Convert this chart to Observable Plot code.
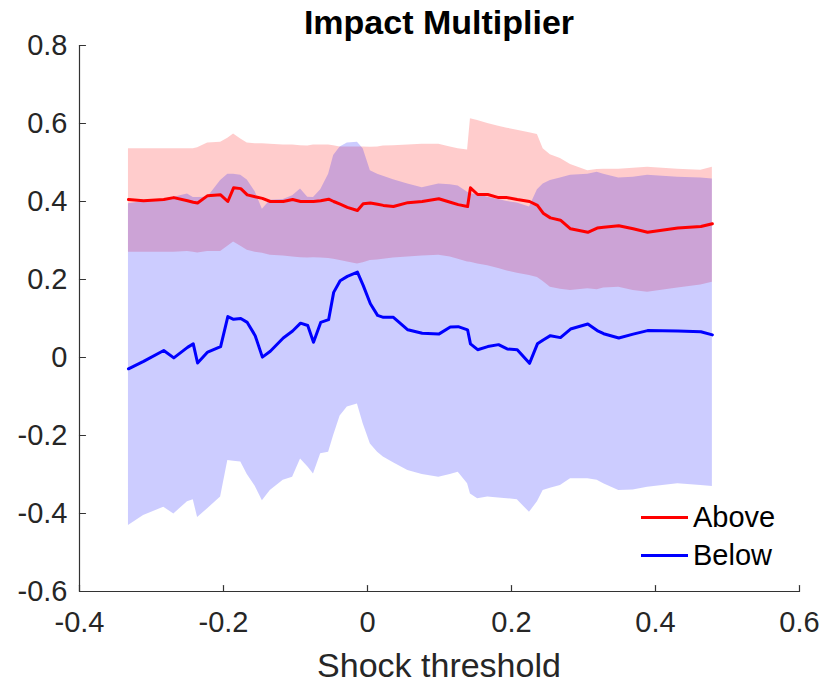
<!DOCTYPE html>
<html><head><meta charset="utf-8">
<script src="https://cdn.jsdelivr.net/npm/d3@7"></script>
<script src="https://cdn.jsdelivr.net/npm/@observablehq/plot@0.6"></script>
<style>
body{margin:0;background:#fff;font-family:"Liberation Sans",Arial,sans-serif;}
#wrap{position:relative;width:825px;height:690px;overflow:hidden;}
#title{position:absolute;left:79px;width:720px;top:3px;text-align:center;font-weight:bold;font-size:34px;color:#000;white-space:nowrap;}
#xlabel{position:absolute;left:79px;width:720px;top:646px;text-align:center;font-size:34px;color:#262626;white-space:nowrap;}
#legend{position:absolute;left:641px;top:498px;font-size:29px;color:#000;}
.row{display:flex;align-items:center;height:38px;}
.sw{width:47px;height:3px;margin-right:5px;}
</style></head><body>
<div id="wrap"><div id="chart"></div><div id="title"></div><div id="xlabel"></div><div id="legend"></div></div>
<script>
const titleText = "Impact Multiplier";
const xLabelText = "Shock threshold";
const seriesNames = ["Above", "Below"];
const seriesColors = ["red", "blue"];
const xDomain = [-0.4, 0.6];
const yDomain = [-0.6, 0.8];
const xTicks = [-0.4, -0.2, 0, 0.2, 0.4, 0.6];
const yTicks = [-0.6, -0.4, -0.2, 0, 0.2, 0.4, 0.6, 0.8];

const threshold = [-0.332, -0.311, -0.283, -0.269, -0.250, -0.242, -0.236, -0.222, -0.204, -0.194,
  -0.186, -0.176, -0.167, -0.156, -0.146, -0.135, -0.117, -0.104, -0.093, -0.083,
  -0.075, -0.065, -0.054, -0.047, -0.038, -0.028, -0.014, -0.006, 0.004, 0.014,
  0.022, 0.036, 0.056, 0.076, 0.099, 0.115, 0.126, 0.139, 0.143, 0.153,
  0.167, 0.182, 0.194, 0.208, 0.225, 0.236, 0.244, 0.254, 0.268, 0.282,
  0.306, 0.319, 0.328, 0.349, 0.369, 0.389, 0.431, 0.463, 0.479];

const aboveMid = [0.405,0.402,0.405,0.41,0.402,0.398,0.396,0.415,0.417,0.40,
  0.435,0.433,0.417,0.412,0.408,0.40,0.40,0.405,0.40,0.40,
  0.40,0.402,0.406,0.40,0.393,0.385,0.377,0.394,0.396,0.393,
  0.39,0.387,0.397,0.40,0.407,0.398,0.392,0.387,0.435,0.418,
  0.418,0.41,0.41,0.405,0.40,0.39,0.37,0.358,0.352,0.33,
  0.321,0.332,0.334,0.338,0.33,0.321,0.332,0.336,0.343];
const aboveHi = [0.535,0.535,0.535,0.535,0.535,0.535,0.538,0.55,0.552,0.562,
  0.573,0.56,0.55,0.548,0.548,0.547,0.545,0.545,0.543,0.542,
  0.545,0.545,0.545,0.543,0.54,0.54,0.54,0.54,0.539,0.54,
  0.542,0.543,0.545,0.547,0.547,0.54,0.535,0.532,0.612,0.608,
  0.60,0.593,0.588,0.583,0.576,0.572,0.535,0.52,0.51,0.495,
  0.479,0.482,0.483,0.483,0.485,0.488,0.483,0.48,0.488];
const aboveLo = [0.27,0.27,0.27,0.27,0.272,0.27,0.268,0.272,0.272,0.285,
  0.296,0.285,0.275,0.27,0.267,0.262,0.26,0.258,0.256,0.255,
  0.256,0.255,0.254,0.252,0.249,0.245,0.24,0.243,0.249,0.25,
  0.252,0.255,0.258,0.26,0.262,0.258,0.252,0.245,0.244,0.24,
  0.235,0.228,0.222,0.216,0.21,0.205,0.195,0.18,0.175,0.172,
  0.176,0.174,0.178,0.18,0.172,0.167,0.178,0.186,0.193];
const belowMid = [-0.029,-0.01,0.018,-0.001,0.026,0.035,-0.014,0.014,0.028,0.105,
  0.098,0.1,0.09,0.056,0.001,0.016,0.05,0.068,0.088,0.082,
  0.039,0.09,0.097,0.167,0.197,0.208,0.219,0.185,0.138,0.108,
  0.103,0.103,0.071,0.062,0.06,0.078,0.079,0.071,0.035,0.02,
  0.028,0.033,0.022,0.02,-0.015,0.035,0.045,0.056,0.051,0.073,
  0.086,0.069,0.061,0.05,0.06,0.069,0.068,0.066,0.058];
const belowHi = [0.394,0.40,0.405,0.411,0.419,0.41,0.41,0.411,0.454,0.47,
  0.47,0.467,0.455,0.425,0.38,0.403,0.405,0.415,0.432,0.411,
  0.41,0.43,0.47,0.518,0.54,0.55,0.552,0.535,0.479,0.47,
  0.465,0.456,0.445,0.435,0.445,0.443,0.44,0.424,0.42,0.418,
  0.411,0.405,0.40,0.396,0.386,0.43,0.445,0.454,0.46,0.467,
  0.47,0.475,0.47,0.46,0.462,0.467,0.462,0.46,0.458];
const belowLo = [-0.431,-0.405,-0.384,-0.401,-0.37,-0.365,-0.41,-0.388,-0.358,-0.264,
  -0.266,-0.268,-0.3,-0.33,-0.367,-0.341,-0.315,-0.307,-0.26,-0.28,
  -0.299,-0.247,-0.243,-0.2,-0.15,-0.127,-0.119,-0.17,-0.222,-0.243,
  -0.255,-0.27,-0.29,-0.3,-0.307,-0.3,-0.294,-0.324,-0.35,-0.362,
  -0.358,-0.36,-0.362,-0.365,-0.397,-0.37,-0.341,-0.335,-0.328,-0.311,
  -0.311,-0.315,-0.324,-0.341,-0.34,-0.333,-0.324,-0.328,-0.331];

const rows = threshold.map((x, i) => ({
  x, aMid: aboveMid[i], aHi: aboveHi[i], aLo: aboveLo[i],
  bMid: belowMid[i], bHi: belowHi[i], bLo: belowLo[i]
}));

const fmt = d => (Math.abs(d) < 1e-9 ? "0" : String(d));
const axisColor = "#333";
const tickUp = {draw(ctx, l) { ctx.moveTo(0, 0); ctx.lineTo(0, -l); }};

const chart = Plot.plot({
  width: 825, height: 690,
  marginLeft: 79, marginRight: 26, marginTop: 45, marginBottom: 99,
  x: {domain: xDomain, label: null},
  y: {domain: yDomain, label: null},
  style: {fontFamily: "'Liberation Sans', Arial, sans-serif", color: "#262626", background: "white", overflow: "visible"},
  marks: [
    Plot.areaY(rows, {x: "x", y1: "aLo", y2: "aHi", fill: seriesColors[0], fillOpacity: 0.2}),
    Plot.areaY(rows, {x: "x", y1: "bLo", y2: "bHi", fill: seriesColors[1], fillOpacity: 0.2}),
    Plot.line(rows, {x: "x", y: "aMid", stroke: seriesColors[0], strokeWidth: 3}),
    Plot.line(rows, {x: "x", y: "bMid", stroke: seriesColors[1], strokeWidth: 3}),
    Plot.ruleY([yDomain[0]], {stroke: axisColor, strokeWidth: 1.2}),
    Plot.ruleX([xDomain[0]], {stroke: axisColor, strokeWidth: 1.2}),
    Plot.vector(xTicks, {x: d => d, y: yDomain[0], length: 6, rotate: 0, anchor: "start", shape: tickUp, stroke: axisColor, strokeWidth: 1.2}),
    Plot.vector(yTicks, {x: xDomain[0], y: d => d, length: 6, rotate: 90, anchor: "start", shape: tickUp, stroke: axisColor, strokeWidth: 1.2}),
    Plot.axisX(xTicks, {tickSize: 0, tickPadding: 20, fontSize: 29, tickFormat: fmt, label: null, fill: "#262626"}),
    Plot.axisY(yTicks, {tickSize: 0, tickPadding: 12, fontSize: 29, tickFormat: fmt, label: null, fill: "#262626"})
  ]
});
document.getElementById("chart").appendChild(chart);
document.getElementById("title").textContent = titleText;
document.getElementById("xlabel").textContent = xLabelText;
const leg = document.getElementById("legend");
seriesNames.forEach((name, i) => {
  const r = document.createElement("div"); r.className = "row";
  const s = document.createElement("span"); s.className = "sw"; s.style.background = seriesColors[i];
  const t = document.createElement("span"); t.textContent = name;
  r.appendChild(s); r.appendChild(t); leg.appendChild(r);
});
</script>
</body></html>
